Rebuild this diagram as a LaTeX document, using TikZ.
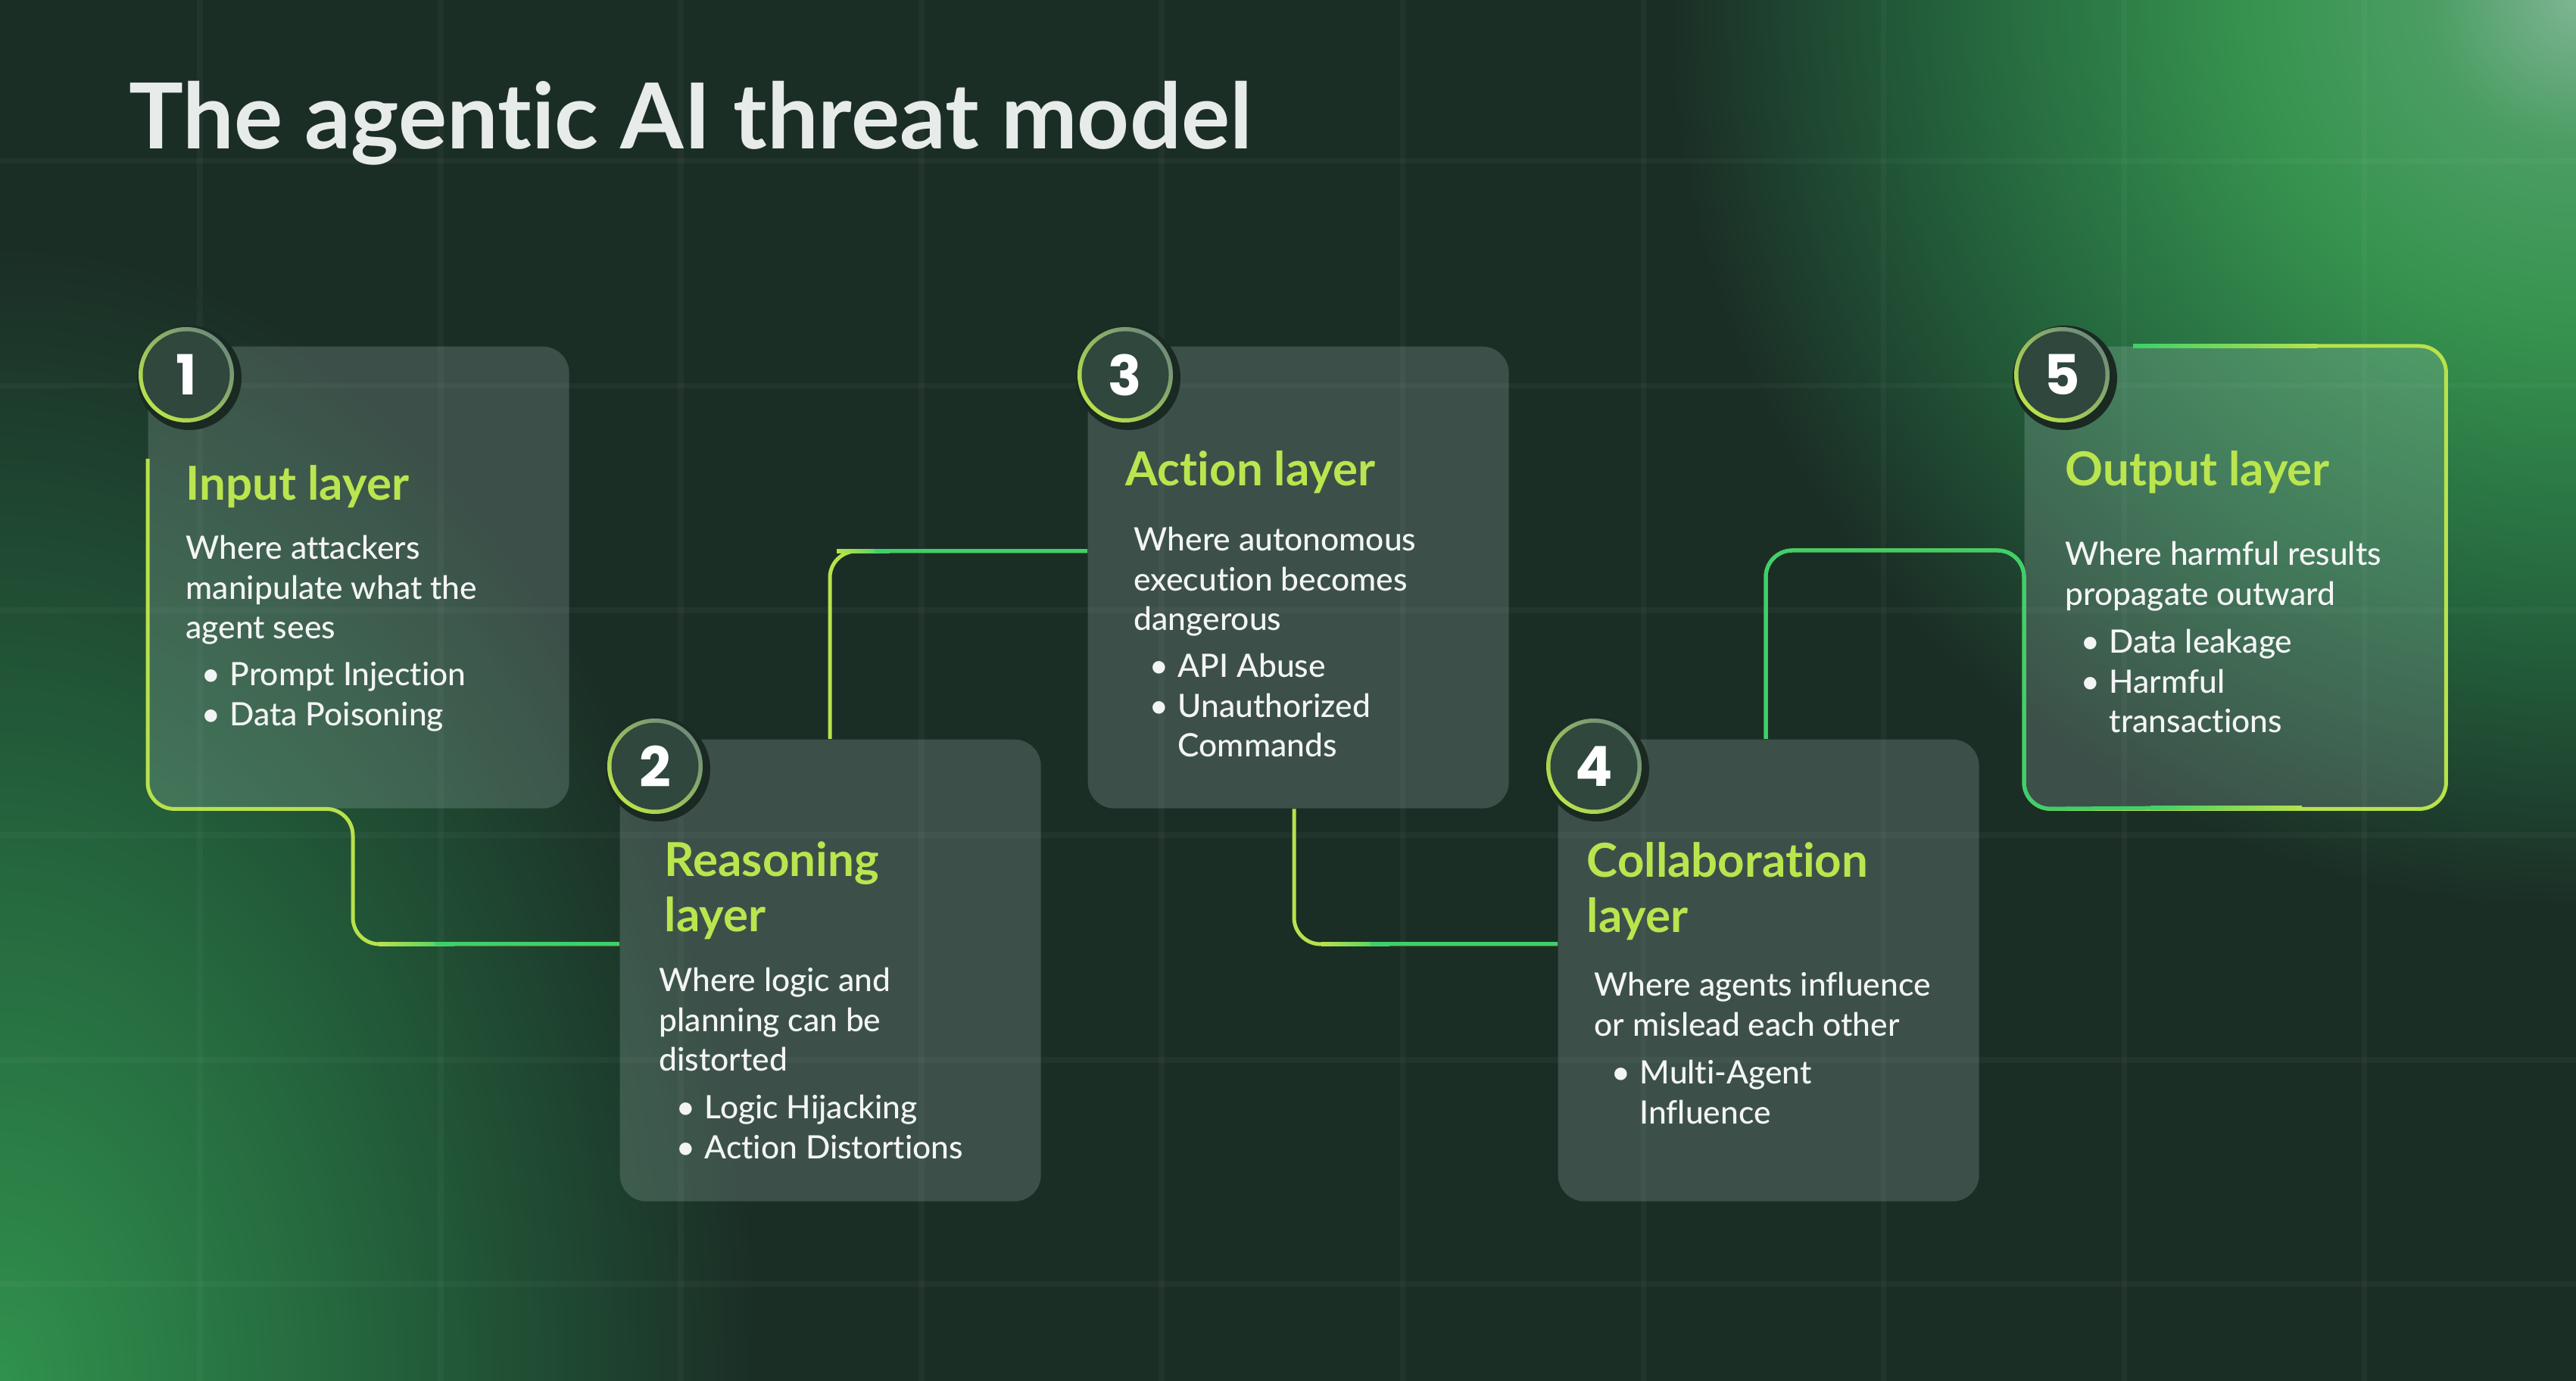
\documentclass[tikz,border=0pt]{standalone}
\usepackage{fontspec}
\setmainfont{Lato}[UprightFont=* Medium,BoldFont=* Bold,Ligatures=NoCommon]
\newfontfamily\numfont{Poppins}
\usepackage{xcolor}
\usepackage{tikz}
\definecolor{TMBack}{HTML}{1B2E26}
\definecolor{TMGlowA}{HTML}{7DB592}
\definecolor{TMGlowB}{HTML}{36934F}
\definecolor{TMGlowC}{HTML}{24643D}
\definecolor{TMGlowD}{HTML}{30914D}
\definecolor{TMCard}{HTML}{C0D8D5}
\definecolor{TMLime}{HTML}{B8E24B}
\definecolor{TMGreen}{HTML}{3DD06B}
\definecolor{TMHead}{HTML}{BAE54E}
\definecolor{TMText}{HTML}{F3F5F4}
\definecolor{TMTitle}{HTML}{E7EBE9}
\definecolor{TMBadge}{HTML}{2F473D}
\definecolor{TMRing}{HTML}{6E8C7A}
\definecolor{TMHalo}{HTML}{1A2A22}
\pgfdeclareradialshading{tmglowtr}{\pgfpoint{0bp}{0bp}}{color(0bp)=(TMGlowA); color(4bp)=(TMGlowB!70!TMGlowA); color(9bp)=(TMGlowB); color(17bp)=(TMGlowC); color(25bp)=(TMBack); color(50bp)=(TMBack)}
\pgfdeclareradialshading{tmglowbl}{\pgfpoint{0bp}{0bp}}{color(0bp)=(TMGlowD); color(12bp)=(TMGlowC); color(25bp)=(TMBack); color(50bp)=(TMBack)}
\newcommand{\txtrows}[1]{\begin{tabular}[t]{@{}l@{}}#1\end{tabular}}
\newcommand{\dotitem}{\makebox[0.37cm][l]{\textbullet}}
\newcommand{\noitem}{\makebox[0.37cm][l]{}}

\begin{document}
\begin{tikzpicture}[x=1cm,y=1cm,
  card/.style={rectangle,rounded corners=0.35cm,minimum width=5.56cm,minimum height=6.10cm,
    inner sep=0,anchor=north west,fill=TMCard,fill opacity=0.2},
  badge/.style={circle,fill=TMBadge,minimum size=1.15cm,inner sep=0,text=white,
    font=\numfont\bfseries\fontsize{20.8}{21}\selectfont},
  ring/.style={top color=TMRing,bottom color=TMLime,shading angle=-45},
  halo/.style={fill=TMHalo},
  head/.style={anchor=base west,inner sep=0,text=TMHead,font=\bfseries\fontsize{17.6}{20.5}\selectfont},
  body/.style={anchor=base west,inner sep=0,text=TMText,font=\fontsize{12.1}{14.8}\selectfont},
  link/.style={line width=0.05cm,rounded corners=0.35cm},
  gridline/.style={line width=2pt,white,opacity=0.03}]
\path[use as bounding box] (0,0) rectangle (34.02,18.24);
\fill[TMBack] (0,0) rectangle (34.02,18.24);
\shade[shading=tmglowtr] (34.02,18.24) circle (12);
\shade[shading=tmglowbl] (0,0) ellipse (10 and 15);
\draw[gridline] (2.64,0) -- (2.64,18.24) (5.82,0) -- (5.82,18.24) (8.99,0) -- (8.99,18.24)
  (12.17,0) -- (12.17,18.24) (15.34,0) -- (15.34,18.24) (18.52,0) -- (18.52,18.24)
  (21.70,0) -- (21.70,18.24) (24.87,0) -- (24.87,18.24) (28.05,0) -- (28.05,18.24)
  (31.22,0) -- (31.22,18.24);
\draw[gridline] (0,16.11) -- (34.02,16.11) (0,13.14) -- (34.02,13.14) (0,10.18) -- (34.02,10.18)
  (0,7.21) -- (34.02,7.21) (0,4.24) -- (34.02,4.24) (0,1.28) -- (34.02,1.28);

\node[anchor=base west,inner sep=0,text=TMTitle,font=\bfseries\fontsize{34.2}{40}\selectfont] (title) at (1.70,16.27) {The agentic AI threat model};

\node[card] (c1) at (1.95,13.67) {};
\node[card] (c2) at (8.18,8.48) {};
\node[card] (c3) at (14.36,13.67) {};
\node[card] (c4) at (20.57,8.48) {};
\node[card] (c5) at (26.73,13.67) {};

\coordinate (k12) at (4.66,5.77);
\coordinate (k23) at (10.96,10.96);
\coordinate (k34) at (17.09,5.77);
\coordinate (k45) at (23.32,10.97);
\coordinate (k5) at (28.17,13.67);

\draw[link,TMLime] (c1.west |- 0,12.18) -- (c1.south west) -- (k12 |- c1.south) -- (k12) -- (k12 -| c2.west);
\shade[left color=TMLime,right color=TMGreen] (5.00,5.745) rectangle (6.00,5.795);
\draw[link,TMGreen] (5.74,5.77) -- (k12 -| c2.west);
\draw[link,TMLime] (k23 |- c2.north) -- (k23) -- (k23 -| c3.west);
\shade[left color=TMLime,right color=TMGreen] (11.05,10.935) rectangle (11.75,10.985);
\draw[link,TMGreen] (11.55,10.96) -- (k23 -| c3.west);
\draw[link,TMLime] (k34 |- c3.south) -- (k34) -- (k34 -| c4.west);
\shade[left color=TMLime,right color=TMGreen] (17.45,5.745) rectangle (18.35,5.795);
\draw[link,TMGreen] (18.10,5.77) -- (k34 -| c4.west);
\draw[link,TMLime] (k45 |- c4.north) -- (k45) -- (c5.west |- k45) -- (c5.south west) -- (c5.south east) -- (c5.north east) -- (k5);
\draw[link,TMGreen] (k45 |- c4.north) -- (k45) -- (c5.west |- k45) -- (c5.south west) -- (28.70,7.57);
\shade[left color=TMGreen,right color=TMLime] (28.40,7.545) rectangle (30.40,7.595);
\shade[left color=TMGreen,right color=TMLime] (28.17,13.645) rectangle (30.60,13.695);

\fill[halo] (2.50,13.25) circle (0.69);
\shade[ring] (2.46,13.29) circle (0.63);
\node[badge] (n1) at (2.46,13.29) {1};
\fill[halo] (8.69,8.08) circle (0.69);
\shade[ring] (8.65,8.12) circle (0.63);
\node[badge] (n2) at (8.65,8.12) {2};
\fill[halo] (14.90,13.25) circle (0.69);
\shade[ring] (14.86,13.29) circle (0.63);
\node[badge] (n3) at (14.86,13.29) {3};
\fill[halo] (21.09,8.08) circle (0.69);
\shade[ring] (21.05,8.12) circle (0.63);
\node[badge] (n4) at (21.05,8.12) {4};
\fill[halo] (27.27,13.25) circle (0.69);
\shade[ring] (27.23,13.29) circle (0.63);
\node[badge] (n5) at (27.23,13.29) {5};

\node[head] (h1) at (2.45,11.63) {\txtrows{Input layer}};
\node[body] (d1) at (2.45,10.85) {\txtrows{Where attackers\\manipulate what the\\agent sees}};
\node[body] (l1) at (2.66,9.18) {\txtrows{\dotitem Prompt Injection\\\dotitem Data Poisoning}};

\node[head] (h2) at (8.77,6.66) {\txtrows{Reasoning\\layer}};
\node[body] (d2) at (8.70,5.14) {\txtrows{Where logic and\\planning can be\\distorted}};
\node[body] (l2) at (8.93,3.46) {\txtrows{\dotitem Logic Hijacking\\\dotitem Action Distortions}};

\node[head] (h3) at (14.86,11.82) {\txtrows{Action layer}};
\node[body] (d3) at (14.97,10.96) {\txtrows{Where autonomous\\execution becomes\\dangerous}};
\node[body] (l3) at (15.18,9.29) {\txtrows{\dotitem API Abuse\\\dotitem Unauthorized\\\noitem Commands}};

\node[head] (h4) at (20.95,6.65) {\txtrows{Collaboration\\layer}};
\node[body] (d4) at (21.05,5.08) {\txtrows{Where agents influence\\or mislead each other}};
\node[body] (l4) at (21.28,3.92) {\txtrows{\dotitem Multi-Agent\\\noitem Influence}};

\node[head] (h5) at (27.27,11.82) {\txtrows{Output layer}};
\node[body] (d5) at (27.27,10.77) {\txtrows{Where harmful results\\propagate outward}};
\node[body] (l5) at (27.48,9.61) {\txtrows{\dotitem Data leakage\\\dotitem Harmful\\\noitem transactions}};
\end{tikzpicture}
\end{document}
